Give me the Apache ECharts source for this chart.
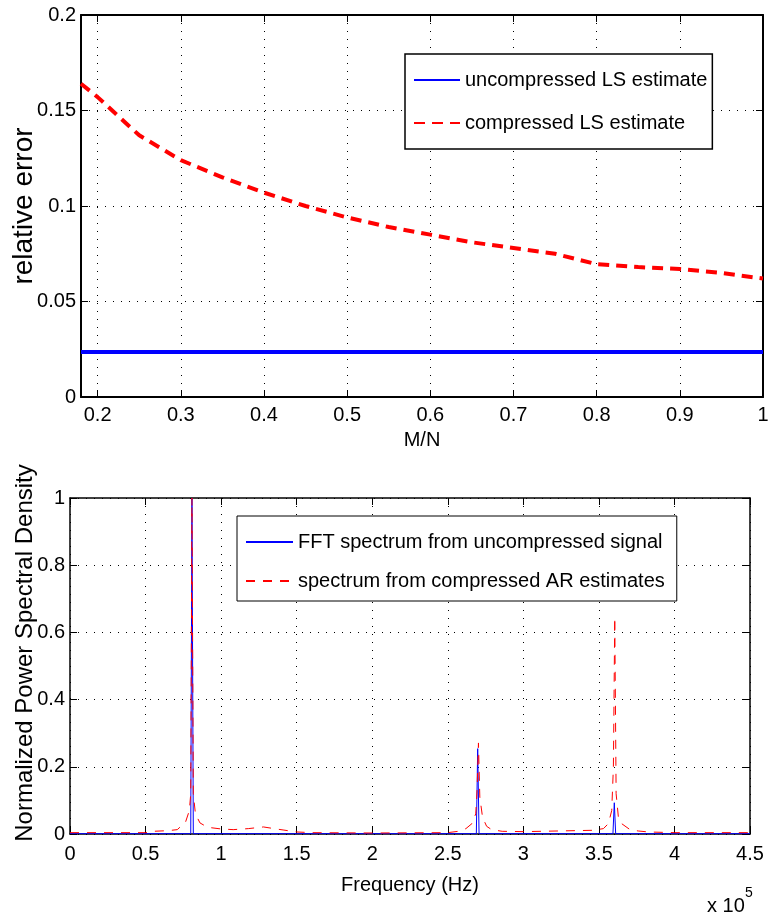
<!DOCTYPE html>
<html><head><meta charset="utf-8">
<script src="https://cdn.jsdelivr.net/npm/echarts@6/dist/echarts.min.js"></script>
<style>html,body{margin:0;padding:0;background:#fff}#c{width:770px;height:921px}</style>
</head><body><div id="c"></div>
<script>
// ---- Top plot: relative error vs M/N ----
const MN = [0.18, 0.2, 0.25, 0.3, 0.35, 0.4, 0.45, 0.5, 0.55, 0.6, 0.65, 0.7, 0.75, 0.8, 0.85, 0.9, 0.95, 1.0];
const LS_UNCOMPRESSED = [0.0235, 0.0235, 0.0235, 0.0235, 0.0235, 0.0235, 0.0235, 0.0235, 0.0235, 0.0235, 0.0235, 0.0235, 0.0235, 0.0235, 0.0235, 0.0235, 0.0235, 0.0235];
const LS_COMPRESSED = [0.164, 0.157, 0.137, 0.124, 0.115, 0.107, 0.100, 0.094, 0.089, 0.085, 0.081, 0.078, 0.075, 0.0695, 0.068, 0.067, 0.065, 0.062];
const MN_TICKS = [0.2, 0.3, 0.4, 0.5, 0.6, 0.7, 0.8, 0.9, 1];

// ---- Bottom plot: normalized PSD vs frequency (Hz) ----
const FREQ_FFT = [0, 79900, 80700, 81600, 268900, 269800, 270700, 359300, 360200, 361100, 450000];
const PSD_FFT  = [0.001, 0.001, 1.0, 0.001, 0.001, 0.254, 0.001, 0.001, 0.093, 0.001, 0.001];

const FREQ_AR = [0, 50000, 55000, 65000, 71000, 76500, 79000, 79900, 80700, 81600, 83000, 86000, 91000, 100000, 108000, 118000, 128000, 135000, 141000, 150000, 160000, 200000, 250000, 257000, 262000, 266000, 268500, 269400, 270300, 271200, 273000, 275700, 279000, 286000, 300000, 346000, 353000, 356300, 358500, 359600, 360500, 361400, 362900, 365000, 370600, 376000, 383000, 400000, 450000];
const PSD_AR  = [0.004, 0.004, 0.008, 0.010, 0.013, 0.036, 0.070, 0.120, 1.0, 0.120, 0.060, 0.033, 0.020, 0.015, 0.013, 0.016, 0.021, 0.016, 0.012, 0.006, 0.004, 0.003, 0.004, 0.008, 0.016, 0.031, 0.060, 0.130, 0.271, 0.110, 0.050, 0.023, 0.013, 0.008, 0.007, 0.011, 0.016, 0.031, 0.070, 0.200, 0.645, 0.120, 0.050, 0.031, 0.013, 0.009, 0.006, 0.004, 0.004];
const FREQ_SCALE = 1e5;

const FONT = "'Liberation Sans', Arial, Helvetica, sans-serif";
const zip = (a, b) => a.map((v, i) => [v, b[i]]);

function axis(base, extra) {
  return Object.assign({
    type: 'value',
    nameMoveOverlap: false,
    axisLine: { show: true, onZero: false, lineStyle: { color: '#000', width: 1.5 } },
    axisTick: { show: true, inside: true, length: 7, lineStyle: { color: '#000', width: 1 } },
    axisLabel: { show: true, color: '#000', fontSize: 20, fontFamily: FONT, margin: 5 },
    splitLine: { show: false },
    nameTextStyle: { color: '#000', fontFamily: FONT }
  }, base, extra || {});
}
const dotted = { show: true, lineStyle: { color: '#000', width: 1, type: [1, 7] } };

const chart = echarts.init(document.getElementById('c'), null, { renderer: 'canvas' });
chart.setOption({
  backgroundColor: '#fff',
  animation: false,
  grid: [
    { left: 81, top: 15, width: 682, height: 382, containLabel: false, outerBoundsMode: 'none' },
    { left: 70, top: 498, width: 680, height: 336, containLabel: false, outerBoundsMode: 'none' }
  ],
  xAxis: [
    axis({ gridIndex: 0, position: 'bottom', min: 0.18, max: 1,
      axisTick: { show: true, inside: true, length: 7, customValues: MN_TICKS, lineStyle: { color: '#000' } },
      axisLabel: { show: true, color: '#000', fontSize: 20, fontFamily: FONT, margin: 8, customValues: MN_TICKS },
      axisLine: { show: true, onZero: false, lineStyle: { color: '#000', width: 2 } },
      splitLine: dotted,
      name: 'M/N', nameLocation: 'middle', nameGap: 33, nameTextStyle: { color: '#000', fontSize: 20, fontFamily: FONT } }),
    axis({ gridIndex: 0, position: 'top', min: 0.18, max: 1,
      axisTick: { show: true, inside: true, length: 7, customValues: MN_TICKS, lineStyle: { color: '#000' } },
      axisLabel: { show: false },
      axisLine: { show: true, onZero: false, lineStyle: { color: '#000', width: 2 } } }),
    axis({ gridIndex: 1, position: 'bottom', min: 0, max: 450000, interval: 50000,
      axisLabel: { show: true, color: '#000', fontSize: 20, fontFamily: FONT, margin: 10, formatter: v => String(+(v / FREQ_SCALE).toFixed(2)) },
      splitLine: dotted,
      name: 'Frequency (Hz)', nameLocation: 'middle', nameGap: 41, nameTextStyle: { color: '#000', fontSize: 20, fontFamily: FONT } }),
    axis({ gridIndex: 1, position: 'top', min: 0, max: 450000, interval: 50000, axisLabel: { show: false } })
  ],
  yAxis: [
    axis({ gridIndex: 0, position: 'left', min: 0, max: 0.2, interval: 0.05,
      axisLine: { show: true, onZero: false, lineStyle: { color: '#000', width: 2 } },
      splitLine: dotted,
      name: 'relative error', nameLocation: 'middle', nameRotate: 90, nameGap: 43,
      nameTextStyle: { color: '#000', fontSize: 28, fontFamily: FONT } }),
    axis({ gridIndex: 0, position: 'right', min: 0, max: 0.2, interval: 0.05, axisLabel: { show: false },
      axisLine: { show: true, onZero: false, lineStyle: { color: '#000', width: 2 } } }),
    axis({ gridIndex: 1, position: 'left', min: 0, max: 1, interval: 0.2,
      splitLine: dotted,
      name: 'Normalized Power Spectral Density', nameLocation: 'middle', nameRotate: 90, nameGap: 33,
      nameTextStyle: { color: '#000', fontSize: 24, fontFamily: FONT, padding: [0, 0, 0, 26] } }),
    axis({ gridIndex: 1, position: 'right', min: 0, max: 1, interval: 0.2, axisLabel: { show: false } })
  ],
  legend: [
    { show: true, orient: 'vertical', left: 405, top: 54,
      data: ['uncompressed LS estimate', 'compressed LS estimate'],
      backgroundColor: '#fff', borderColor: '#000', borderWidth: 1.5, borderRadius: 0,
      padding: [16, 5, 16, 8], itemGap: 23, itemWidth: 46, itemHeight: 14,
      itemStyle: { opacity: 0 },
      textStyle: { color: '#000', fontSize: 20, fontFamily: FONT, lineHeight: 20 } },
    { show: true, orient: 'vertical', left: 237, top: 516,
      data: ['FFT spectrum from uncompressed signal', 'spectrum from compressed AR estimates'],
      backgroundColor: '#fff', borderColor: '#000', borderWidth: 1, borderRadius: 0,
      padding: [16, 12, 10, 8], itemGap: 19, itemWidth: 47, itemHeight: 14,
      itemStyle: { opacity: 0 },
      textStyle: { color: '#000', fontSize: 20, fontFamily: FONT, lineHeight: 20 } }
  ],
  series: [
    { name: 'uncompressed LS estimate', type: 'line', xAxisIndex: 0, yAxisIndex: 0,
      data: zip(MN, LS_UNCOMPRESSED), symbol: 'none', lineStyle: { color: '#0000ff', width: 4 }, itemStyle: { color: '#0000ff' } },
    { name: 'compressed LS estimate', type: 'line', xAxisIndex: 0, yAxisIndex: 0,
      data: zip(MN, LS_COMPRESSED), symbol: 'none', lineStyle: { color: '#ff0000', width: 4, type: [11, 7] }, itemStyle: { color: '#ff0000' } },
    { name: 'FFT spectrum from uncompressed signal', type: 'line', xAxisIndex: 2, yAxisIndex: 2,
      data: zip(FREQ_FFT, PSD_FFT), symbol: 'none', lineStyle: { color: '#0000ff', width: 1 }, itemStyle: { color: '#0000ff' } },
    { name: 'spectrum from compressed AR estimates', type: 'line', xAxisIndex: 2, yAxisIndex: 2,
      data: zip(FREQ_AR, PSD_AR), symbol: 'none', lineStyle: { color: '#ff0000', width: 1, type: [9, 8] }, itemStyle: { color: '#ff0000' } }
  ],
  graphic: [
    { type: 'text', left: 707, top: 896, style: { text: 'x 10', fontSize: 20, fontFamily: FONT, fill: '#000' } },
    { type: 'text', left: 745, top: 886, style: { text: '5', fontSize: 14, fontFamily: FONT, fill: '#000' } }
  ]
});
</script>
</body></html>
